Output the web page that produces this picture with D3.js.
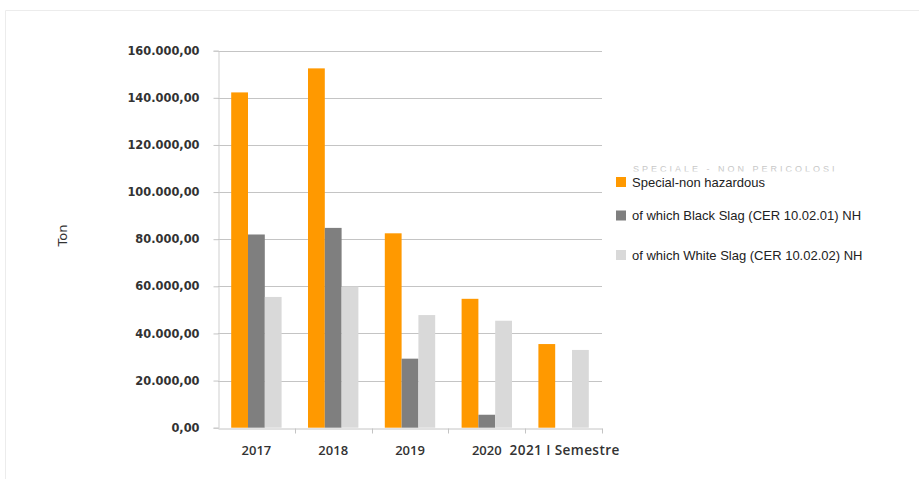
<!DOCTYPE html>
<html>
<head>
<meta charset="utf-8">
<script src="https://cdn.jsdelivr.net/npm/d3@7/dist/d3.min.js"></script>
<style>
  html, body { margin: 0; padding: 0; background: #fff; }
  svg { display: block; }
</style>
</head>
<body>
<svg id="chart" width="919" height="479"></svg>
<script>
// Waste production by year (tonnes)
const years = ["2017", "2018", "2019", "2020", "2021 I Semestre"];
const seriesNames = [
  "Special-non hazardous",
  "of which Black Slag (CER 10.02.01) NH",
  "of which White Slag (CER 10.02.02) NH"
];
const specialNonHazardous = [142300, 152500, 82500, 54700, 35500];
const blackSlag = [82000, 84800, 29300, 5500, 0];
const whiteSlag = [55500, 59900, 47800, 45400, 33000];
const yTicks = [0, 20000, 40000, 60000, 80000, 100000, 120000, 140000, 160000];
const colors = ["#ff9900", "#7f7f7f", "#d9d9d9"];

const seriesValues = [specialNonHazardous, blackSlag, whiteSlag];
const rows = years.map((y, i) => ({ year: y, values: seriesValues.map(s => s[i]) }));

const svg = d3.select("#chart");
const plot = { left: 218, right: 602, top: 50.7, bottom: 427.7 };

// faint outer frame
svg.append("path")
  .attr("d", "M5.5,479 V10.5 H919")
  .attr("fill", "none")
  .attr("stroke", "#ececec")
  .attr("stroke-width", 1);

const x0 = d3.scaleBand().domain(years).range([plot.left, plot.right]).paddingInner(0).paddingOuter(0);
const x1 = d3.scaleBand().domain(d3.range(3)).range([13.2, x0.bandwidth() - 13.2]).padding(0);
const y = d3.scaleLinear().domain([0, 160000]).range([plot.bottom, plot.top]);

const fmt = v => d3.format(",.2f")(v).replace(/,/g, "#").replace(/\./g, ",").replace(/#/g, ".");

// gridlines
svg.append("g")
  .selectAll("line")
  .data(yTicks.filter(t => t > 0))
  .join("line")
  .attr("x1", plot.left).attr("x2", plot.right)
  .attr("y1", d => Math.round(y(d)) + 0.5).attr("y2", d => Math.round(y(d)) + 0.5)
  .attr("stroke", "#c4c4c4").attr("stroke-width", 1);

// y axis
const yAxis = svg.append("g")
  .attr("transform", `translate(${plot.left + 0.5},0)`)
  .call(d3.axisLeft(y).tickValues(yTicks).tickSize(5).tickPadding(14).tickFormat(fmt));
yAxis.select(".domain").attr("stroke", "#cfcfcf");
yAxis.selectAll(".tick line").attr("stroke", "#c4c4c4");
yAxis.selectAll(".tick text")
  .attr("font-family", "DejaVu Sans, sans-serif")
  .attr("font-weight", "bold")
  .attr("font-size", "11.4px")
  .attr("fill", "#333");

// bars
const groups = svg.append("g")
  .selectAll("g")
  .data(rows)
  .join("g")
  .attr("transform", d => `translate(${x0(d.year)},0)`);
groups.selectAll("rect")
  .data(d => d.values.map((v, i) => ({ v, i })))
  .join("rect")
  .attr("x", d => x1(d.i))
  .attr("width", x1.bandwidth())
  .attr("y", d => y(d.v))
  .attr("height", d => y(0) - y(d.v))
  .attr("fill", d => colors[d.i]);

// x axis
const xAxis = svg.append("g")
  .attr("transform", `translate(0,${Math.round(plot.bottom) + 0.5})`)
  .call(d3.axisBottom(x0).tickSize(0).tickPadding(17));
xAxis.select(".domain").attr("stroke", "#c4c4c4");
xAxis.selectAll(".tick text")
  .attr("font-family", "Open Sans, sans-serif")
  .attr("font-weight", "600")
  .attr("font-size", "13px")
  .attr("fill", "#333");
xAxis.selectAll(".tick text")
  .filter(d => d === years[years.length - 1])
  .attr("font-size", "13.6px")
  .attr("letter-spacing", "0.4px")
  .attr("dx", "1px");
// boundary ticks between categories
xAxis.append("g")
  .selectAll("line")
  .data(years.map(d => x0(d)).concat([x0.range()[1]]).slice(1))
  .join("line")
  .attr("x1", d => Math.round(d) + 0.5).attr("x2", d => Math.round(d) + 0.5)
  .attr("y1", 0).attr("y2", 5)
  .attr("stroke", "#c4c4c4");

// axis title
svg.append("text")
  .attr("transform", "translate(67,235.5) rotate(-90)")
  .attr("text-anchor", "middle")
  .attr("font-family", "DejaVu Sans, sans-serif")
  .attr("font-size", "13px")
  .attr("fill", "#333")
  .text("Ton");

// legend
const legend = svg.append("g");
const legendY = [181.5, 215, 254.5];
// header, its lower part cut off above the first entry
legend.append("defs").append("clipPath").attr("id", "hdrClip")
  .append("rect").attr("x", 600).attr("y", 160).attr("width", 300).attr("height", 11.5);
legend.append("text")
  .attr("x", 633).attr("y", 172)
  .attr("clip-path", "url(#hdrClip)")
  .attr("font-family", "Liberation Sans, Arial, sans-serif")
  .attr("font-size", "9px")
  .attr("letter-spacing", "3px")
  .attr("fill", "#c8c8c8")
  .text("SPECIALE - NON PERICOLOSI");

seriesNames.forEach((name, i) => {
  legend.append("rect")
    .attr("x", 616).attr("y", legendY[i] - 4.5)
    .attr("width", 10).attr("height", 10)
    .attr("fill", colors[i]);
  legend.append("text")
    .attr("x", 632).attr("y", legendY[i] + 5)
    .attr("font-family", "Liberation Sans, Arial, sans-serif")
    .attr("font-size", "13px")
    .attr("fill", "#222")
    .text(name);
});
</script>
</body>
</html>
